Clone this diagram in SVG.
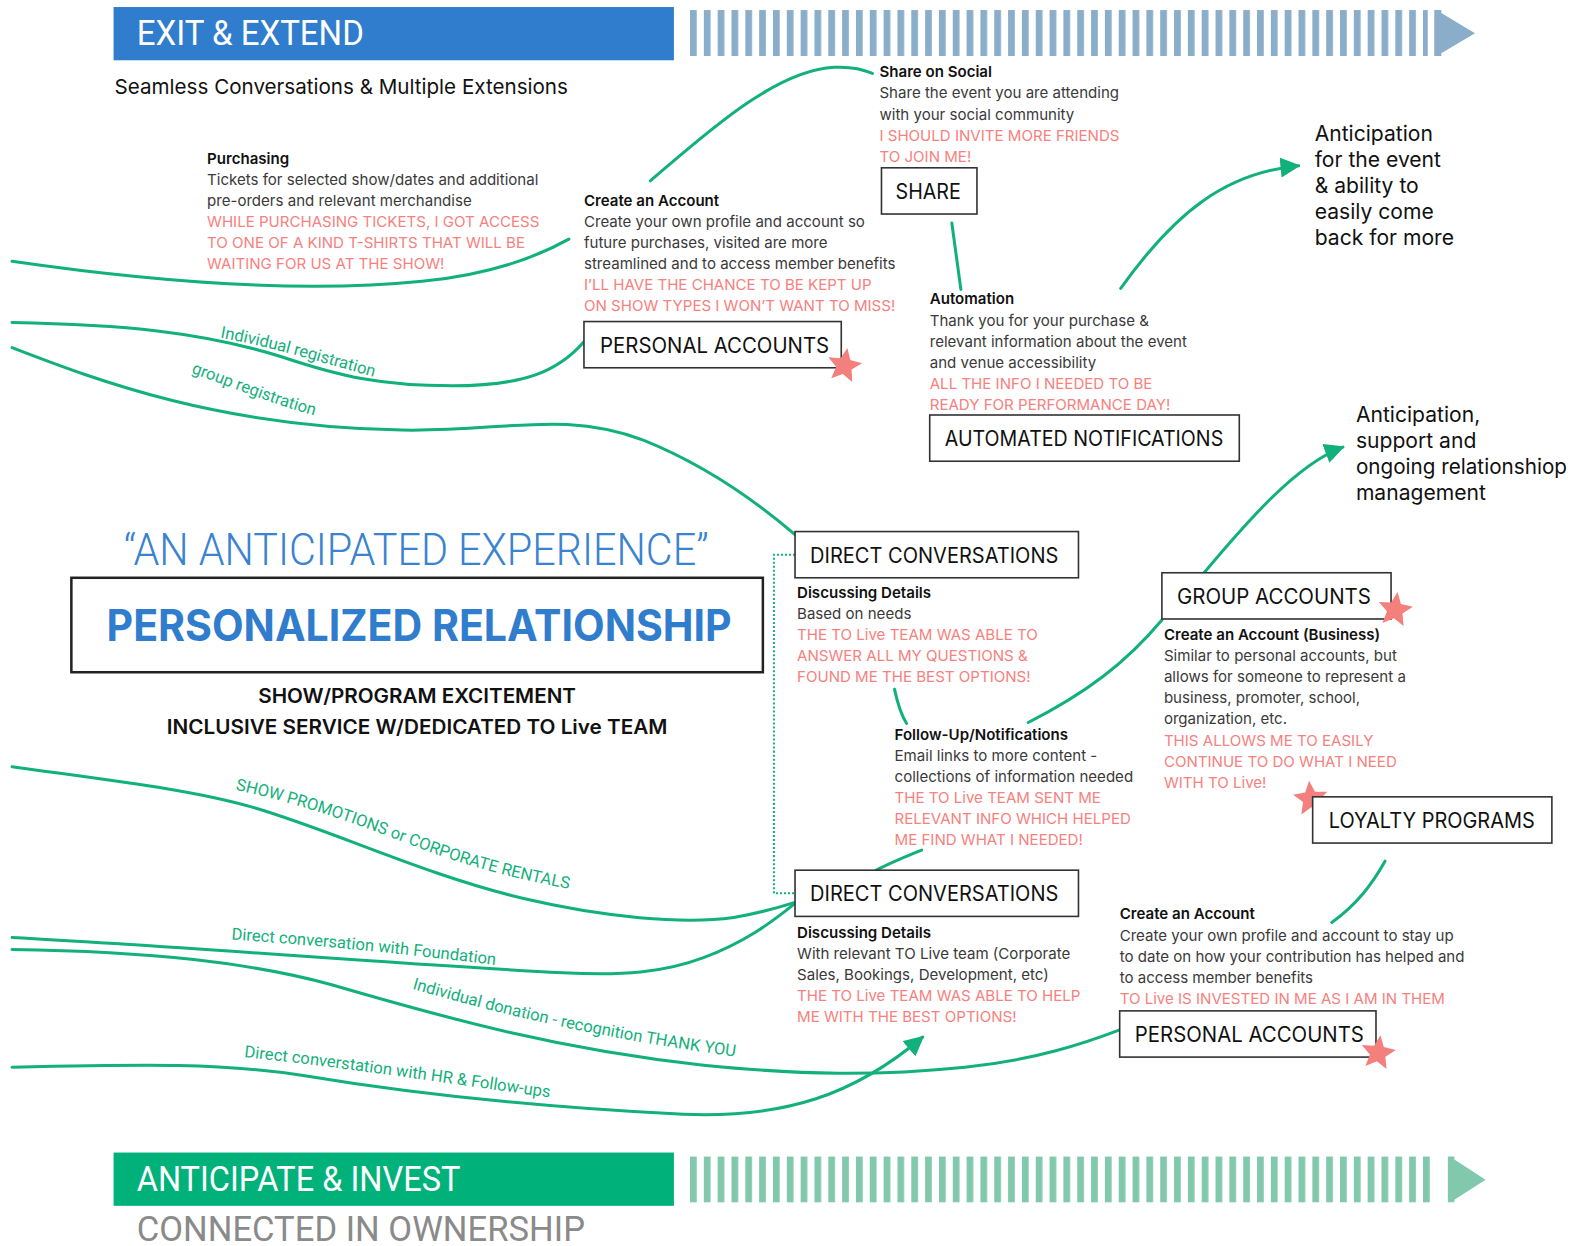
<svg xmlns="http://www.w3.org/2000/svg" width="1576" height="1246" viewBox="0 0 1576 1246">
<style>
.t{font-family:Inter,"Liberation Sans",sans-serif;font-size:15px;fill:#3a3a3a}
.b{font-weight:600;fill:#111}
.r{fill:#f6817e}
.box{fill:#fff;stroke:#333;stroke-width:1.6}
.bl{font-family:Inter,"Liberation Sans",sans-serif;font-size:21px;fill:#111}
.c{fill:none;stroke:#12b07b;stroke-width:3;stroke-linecap:round}
.lbl{font-family:Roboto,"Liberation Sans",sans-serif;font-size:16.5px;fill:#12b07b}
.big{font-family:Inter,"Liberation Sans",sans-serif;font-size:21px;fill:#111}
.star{fill:#f3807c}
</style>
<defs>
<pattern id="stB" patternUnits="userSpaceOnUse" x="686.5" y="0" width="13.76" height="60"><rect x="0" y="0" width="6.7" height="60" fill="#8aadc9"/></pattern>
<pattern id="stG" patternUnits="userSpaceOnUse" x="686.5" y="0" width="13.76" height="60"><rect x="0" y="0" width="6.7" height="60" fill="#82c8ad"/></pattern>
<marker id="ah" viewBox="0 0 10 10" refX="9" refY="5" markerWidth="20" markerHeight="20" markerUnits="userSpaceOnUse" orient="auto"><path d="M0,0 L10,5 L0,10 z" fill="#12b07b"/></marker>
<path id="star" d="M0,-18 L4.9,-6.7 L17.1,-5.6 L7.8,2.5 L10.6,14.6 L0,8.3 L-10.6,14.6 L-7.8,2.5 L-17.1,-5.6 L-4.9,-6.7 Z"/>
<path id="p1" d="M219,336 C 270,345 320,361 372,375"/>
<path id="p2" d="M190,371 C 230,385 270,402 318,415"/>
<path id="p3" d="M234,786 C 300,800 360,822 420,845 C 470,864 520,876 568,885"/>
<path id="p4" d="M230,935 C 320,941 410,950 498,961"/>
<path id="p5" d="M410,984 C 500,1010 600,1034 736,1052"/>
<path id="p6" d="M243,1052 C 330,1061 440,1077 552,1093"/>
</defs>
<rect width="1576" height="1246" fill="#fff"/>
<g transform="scale(1.0051 1.00484)">

<g id="header-top">
<rect x="113" y="7" width="557.5" height="53" fill="#2f7dcc"/>
<text x="136" y="45" font-family="Roboto,'Liberation Sans',sans-serif" font-size="35" fill="#fff" textLength="226" lengthAdjust="spacingAndGlyphs">EXIT &amp; EXTEND</text>
<rect x="686.5" y="10" width="734" height="45.7" fill="url(#stB)"/>
<polygon points="1427,10 1434,10 1434,13 1467.5,33 1434,53 1434,55.7 1427,55.7" fill="#8aadc9"/>
<text x="114" y="94" font-family="Inter,'Liberation Sans',sans-serif" font-size="20.5" fill="#111" textLength="451" lengthAdjust="spacingAndGlyphs">Seamless Conversations &amp; Multiple Extensions</text>
</g>

<g id="header-bottom">
<rect x="113" y="1147" width="557.5" height="53" fill="#00b27a"/>
<text x="136" y="1185" font-family="Roboto,'Liberation Sans',sans-serif" font-size="35" fill="#fff" textLength="322" lengthAdjust="spacingAndGlyphs">ANTICIPATE &amp; INVEST</text>
<rect x="686.5" y="1151" width="741" height="45.5" fill="url(#stG)"/>
<polygon points="1440.5,1151 1447,1151 1447,1154 1478,1174 1447,1194 1447,1196.5 1440.5,1196.5" fill="#82c8ad"/>
<text x="136" y="1235" font-family="Roboto,'Liberation Sans',sans-serif" font-size="34" fill="#8a8a8a" textLength="446" lengthAdjust="spacingAndGlyphs">CONNECTED IN OWNERSHIP</text>
</g>

<g id="connectors">
<path class="c" d="M12,260 C 150,280 300,292 420,280 C 480,274 530,258 566,238"/>
<path class="c" d="M647,180 C 700,135 770,70 830,67 C 850,66 860,70 868,73"/>
<path class="c" d="M947,222 C 950,245 953,265 956,288"/>
<path class="c" marker-end="url(#ah)" d="M1115,287 C 1170,210 1220,172 1292,165"/>
<path class="c" d="M12,321 C 120,323 200,330 280,355 C 340,375 380,384 450,384 C 520,384 555,370 581,340"/>
<path class="c" d="M12,346 C 100,380 220,425 400,428 C 500,430 560,408 640,438 C 700,462 750,497 791,532"/>
<path d="M791,552 H770 V889 H791" fill="none" stroke="#12b07b" stroke-width="2" stroke-dasharray="2 2"/>
<path class="c" d="M890,686 C 893,700 897,712 902,720"/>
<path class="c" d="M1023,719 C 1080,690 1120,660 1156,617"/>
<path class="c" marker-end="url(#ah)" d="M1198,570 C 1240,520 1290,462 1336,445"/>
<path class="c" d="M917,846 C 900,853 885,859 872,866"/>
<path class="c" d="M12,763 C 120,778 190,786 250,803 C 330,826 420,870 520,894 C 600,913 680,920 730,913 C 755,909 775,903 791,898"/>
<path class="c" d="M12,933 C 200,943 400,960 560,968 C 620,971 660,968 700,953 C 740,938 765,920 791,899"/>
<path class="c" d="M12,945 C 150,947 250,958 330,980 C 450,1015 560,1045 700,1060 C 800,1070 870,1071 960,1062 C 1030,1055 1080,1038 1114,1025"/>
<path class="c" marker-end="url(#ah)" d="M12,1062 C 150,1059 220,1058 300,1070 C 420,1090 560,1103 680,1109 C 780,1113 850,1090 918,1032"/>
<path class="c" d="M1378,857 C 1365,880 1350,900 1325,918"/>
<text class="lbl"><textPath href="#p1">Individual registration</textPath></text>
<text class="lbl"><textPath href="#p2">group registration</textPath></text>
<text class="lbl"><textPath href="#p3">SHOW PROMOTIONS or CORPORATE RENTALS</textPath></text>
<text class="lbl"><textPath href="#p4">Direct conversation with Foundation</textPath></text>
<text class="lbl"><textPath href="#p5">Individual donation - recognition THANK YOU</textPath></text>
<text class="lbl"><textPath href="#p6">Direct converstation with HR &amp; Follow-ups</textPath></text>
</g>

<g id="center-title">
<text x="123" y="562" font-family="Roboto,'Liberation Sans',sans-serif" font-weight="300" font-size="44" fill="#3a83d1" textLength="582" lengthAdjust="spacingAndGlyphs">“AN ANTICIPATED EXPERIENCE”</text>
<rect x="71" y="575" width="688" height="94" fill="#fff" stroke="#222" stroke-width="2.5"/>
<text x="106" y="638" font-family="Inter,'Liberation Sans',sans-serif" font-weight="700" font-size="43" fill="#2f7dcc" textLength="622" lengthAdjust="spacingAndGlyphs">PERSONALIZED RELATIONSHIP</text>
<text x="415" y="700" text-anchor="middle" font-family="Inter,'Liberation Sans',sans-serif" font-weight="600" font-size="19.5" fill="#111" textLength="316" lengthAdjust="spacingAndGlyphs">SHOW/PROGRAM EXCITEMENT</text>
<text x="415" y="730" text-anchor="middle" font-family="Inter,'Liberation Sans',sans-serif" font-weight="600" font-size="19.5" fill="#111" textLength="498" lengthAdjust="spacingAndGlyphs">INCLUSIVE SERVICE W/DEDICATED TO Live TEAM</text>
</g>

<g id="purchasing">
<text class="t b" x="206" y="163">Purchasing</text>
<text class="t" x="206" y="184">Tickets for selected show/dates and additional</text>
<text class="t" x="206" y="205">pre-orders and relevant merchandise</text>
<text class="t r" x="206" y="226">WHILE PURCHASING TICKETS, I GOT ACCESS</text>
<text class="t r" x="206" y="247">TO ONE OF A KIND T-SHIRTS THAT WILL BE</text>
<text class="t r" x="206" y="268">WAITING FOR US AT THE SHOW!</text>
</g>

<g id="personal-accounts-1">
<text class="t b" x="581" y="205">Create an Account</text>
<text class="t" x="581" y="226">Create your own profile and account so</text>
<text class="t" x="581" y="247">future purchases, visited are more</text>
<text class="t" x="581" y="268">streamlined and to access member benefits</text>
<text class="t r" x="581" y="289">I’LL HAVE THE CHANCE TO BE KEPT UP</text>
<text class="t r" x="581" y="310">ON SHOW TYPES I WON’T WANT TO MISS!</text>
<rect class="box" x="581" y="320" width="256" height="46"/>
<text class="bl" x="597" y="351" textLength="228" lengthAdjust="spacingAndGlyphs">PERSONAL ACCOUNTS</text>
<use href="#star" class="star" transform="translate(840,364) rotate(10)"/>
</g>

<g id="share">
<text class="t b" x="875" y="77">Share on Social</text>
<text class="t" x="875" y="98">Share the event you are attending</text>
<text class="t" x="875" y="119">with your social community</text>
<text class="t r" x="875" y="140">I SHOULD INVITE MORE FRIENDS</text>
<text class="t r" x="875" y="161">TO JOIN ME!</text>
<rect class="box" x="877" y="167" width="95" height="46"/>
<text class="bl" x="891" y="198" textLength="65" lengthAdjust="spacingAndGlyphs">SHARE</text>
</g>

<g id="automated-notifications">
<text class="t b" x="925" y="303">Automation</text>
<text class="t" x="925" y="324">Thank you for your purchase &amp;</text>
<text class="t" x="925" y="345">relevant information about the event</text>
<text class="t" x="925" y="366">and venue accessibility</text>
<text class="t r" x="925" y="387">ALL THE INFO I NEEDED TO BE</text>
<text class="t r" x="925" y="408">READY FOR PERFORMANCE DAY!</text>
<rect class="box" x="925" y="413" width="308" height="46"/>
<text class="bl" x="940" y="444" textLength="277" lengthAdjust="spacingAndGlyphs">AUTOMATED NOTIFICATIONS</text>
</g>

<g id="anticipation-1">
<text class="big" x="1308" y="140">Anticipation</text>
<text class="big" x="1308" y="166">for the event</text>
<text class="big" x="1308" y="192">&amp; ability to</text>
<text class="big" x="1308" y="218">easily come</text>
<text class="big" x="1308" y="244">back for more</text>
</g>

<g id="anticipation-2">
<text class="big" x="1349" y="420">Anticipation,</text>
<text class="big" x="1349" y="446">support and</text>
<text class="big" x="1349" y="472" textLength="210" lengthAdjust="spacingAndGlyphs">ongoing relationshiop</text>
<text class="big" x="1349" y="498">management</text>
</g>

<g id="direct-conversations-1">
<rect class="box" x="791" y="529" width="282" height="46"/>
<text class="bl" x="806" y="560" textLength="247" lengthAdjust="spacingAndGlyphs">DIRECT CONVERSATIONS</text>
<text class="t b" x="793" y="595">Discussing Details</text>
<text class="t" x="793" y="616">Based on needs</text>
<text class="t r" x="793" y="637">THE TO Live TEAM WAS ABLE TO</text>
<text class="t r" x="793" y="658">ANSWER ALL MY QUESTIONS &amp;</text>
<text class="t r" x="793" y="679">FOUND ME THE BEST OPTIONS!</text>
</g>

<g id="follow-up">
<text class="t b" x="890" y="736">Follow-Up/Notifications</text>
<text class="t" x="890" y="757">Email links to more content -</text>
<text class="t" x="890" y="778">collections of information needed</text>
<text class="t r" x="890" y="799">THE TO Live TEAM SENT ME</text>
<text class="t r" x="890" y="820">RELEVANT INFO WHICH HELPED</text>
<text class="t r" x="890" y="841">ME FIND WHAT I NEEDED!</text>
</g>

<g id="direct-conversations-2">
<rect class="box" x="791" y="866" width="282" height="46"/>
<text class="bl" x="806" y="897" textLength="247" lengthAdjust="spacingAndGlyphs">DIRECT CONVERSATIONS</text>
<text class="t b" x="793" y="933">Discussing Details</text>
<text class="t" x="793" y="954">With relevant TO Live team (Corporate</text>
<text class="t" x="793" y="975">Sales, Bookings, Development, etc)</text>
<text class="t r" x="793" y="996">THE TO Live TEAM WAS ABLE TO HELP</text>
<text class="t r" x="793" y="1017">ME WITH THE BEST OPTIONS!</text>
</g>

<g id="group-accounts">
<rect class="box" x="1156" y="570" width="228" height="46"/>
<text class="bl" x="1171" y="601" textLength="193" lengthAdjust="spacingAndGlyphs">GROUP ACCOUNTS</text>
<use href="#star" class="star" transform="translate(1388,607) rotate(8)"/>
<text class="t b" x="1158" y="637">Create an Account (Business)</text>
<text class="t" x="1158" y="658">Similar to personal accounts, but</text>
<text class="t" x="1158" y="679">allows for someone to represent a</text>
<text class="t" x="1158" y="700">business, promoter, school,</text>
<text class="t" x="1158" y="721">organization, etc.</text>
<text class="t r" x="1158" y="742">THIS ALLOWS ME TO EASILY</text>
<text class="t r" x="1158" y="763">CONTINUE TO DO WHAT I NEED</text>
<text class="t r" x="1158" y="784">WITH TO Live!</text>
</g>

<g id="loyalty-programs">
<use href="#star" class="star" transform="translate(1304,795) rotate(-5)"/>
<rect class="box" x="1306" y="793" width="238" height="46"/>
<text class="bl" x="1322" y="824" textLength="205" lengthAdjust="spacingAndGlyphs">LOYALTY PROGRAMS</text>
</g>

<g id="personal-accounts-2">
<text class="t b" x="1114" y="915">Create an Account</text>
<text class="t" x="1114" y="936">Create your own profile and account to stay up</text>
<text class="t" x="1114" y="957">to date on how your contribution has helped and</text>
<text class="t" x="1114" y="978">to access member benefits</text>
<text class="t r" x="1114" y="999">TO Live IS INVESTED IN ME AS I AM IN THEM</text>
<rect class="box" x="1114" y="1006" width="255" height="46"/>
<text class="bl" x="1129" y="1037" textLength="228" lengthAdjust="spacingAndGlyphs">PERSONAL ACCOUNTS</text>
<use href="#star" class="star" transform="translate(1371,1048) rotate(8)"/>
</g>

</g>
</svg>
